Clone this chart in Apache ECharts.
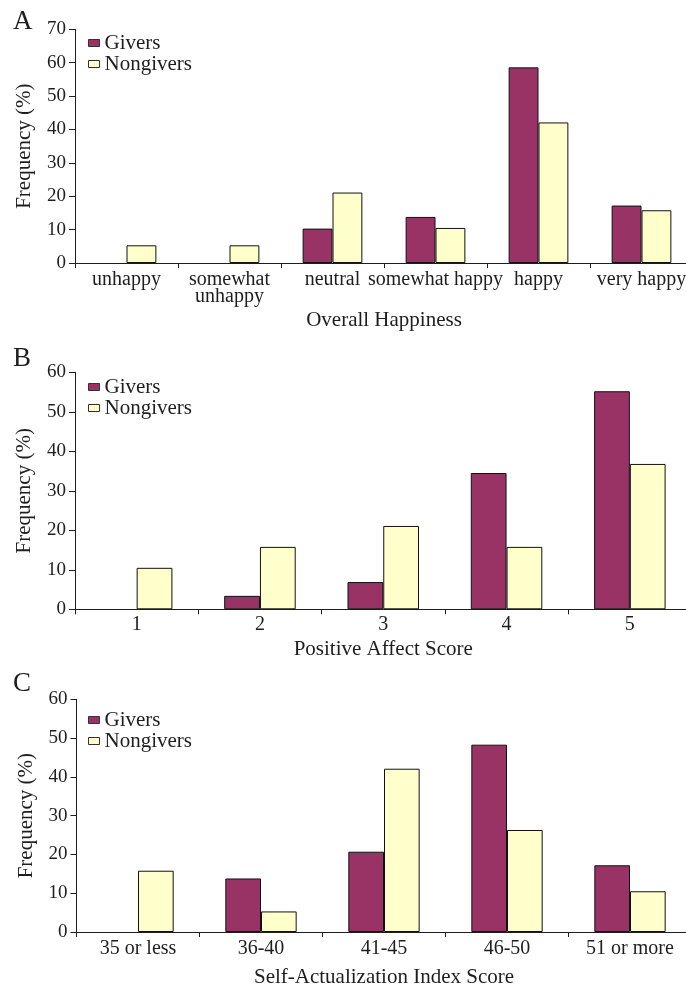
<!DOCTYPE html>
<html>
<head>
<meta charset="utf-8">
<script src="https://cdn.jsdelivr.net/npm/echarts@6/dist/echarts.min.js"></script>
<style>
  html, body { margin: 0; padding: 0; background: #fff; overflow: hidden; }
  #chart { width: 700px; height: 989px; }
</style>
</head>
<body>
<div id="chart"></div>
<script>
// Panel A: overall happiness
const catsA = ['unhappy', 'somewhat\nunhappy', 'neutral', 'somewhat happy', 'happy', 'very happy'];
const giversA = [0, 0, 10.3, 13.8, 58.6, 17.2];
const nongiversA = [5.3, 5.3, 21.1, 10.5, 42.1, 15.8];

// Panel B: positive affect score
const catsB = ['1', '2', '3', '4', '5'];
const giversB = [0, 3.4, 6.9, 34.5, 55.2];
const nongiversB = [10.5, 15.8, 21.1, 15.8, 36.8];

// Panel C: self-actualization index score
const catsC = ['35 or less', '36-40', '41-45', '46-50', '51 or more'];
const giversC = [0, 13.8, 20.7, 48.3, 17.2];
const nongiversC = [15.8, 5.3, 42.1, 26.3, 10.5];

const panelLetters = ['A', 'B', 'C'];
const xTitles = ['Overall Happiness', 'Positive Affect Score', 'Self-Actualization Index Score'];
const yTitle = 'Frequency (%)';
const yMax = [70, 60, 60];

const FONT = '"Liberation Serif", "Times New Roman", serif';
const INK = '#1e1e1e';
const GIVER_COLOR = '#993366';
const NONGIVER_COLOR = '#ffffcc';

const panels = [
  { cats: catsA, g: giversA, n: nongiversA, grid: { left: 75, top: 29.3, width: 618, height: 233.7 },
    legendTop: 32.5, letterTop: 3, nameGap: 47, labelMargin: 8 },
  { cats: catsB, g: giversB, n: nongiversB, grid: { left: 75, top: 372.3, width: 616.5, height: 237 },
    legendTop: 376.5, letterTop: 340, nameGap: 30, labelMargin: 7 },
  { cats: catsC, g: giversC, n: nongiversC, grid: { left: 76.5, top: 699.3, width: 615, height: 233.4 },
    legendTop: 709.5, letterTop: 665, nameGap: 35, labelMargin: 8 }
];

// empty categories draw no bar at all
const bars = arr => arr.map(v => (v === 0 ? null : v));

const option = {
  animation: false,
  backgroundColor: '#fff',
  textStyle: { fontFamily: FONT, color: INK },
  title: [], legend: [], grid: [], xAxis: [], yAxis: [], series: []
};

panels.forEach((p, i) => {
  option.title.push({
    text: panelLetters[i], left: 8, top: p.letterTop,
    textStyle: { fontFamily: FONT, fontSize: 27, fontWeight: 'normal', color: INK }
  });
  option.grid.push(p.grid);
  option.legend.push({
    data: ['Givers', 'Nongivers'],
    orient: 'vertical', left: 88, top: p.legendTop, padding: 0,
    itemWidth: 11, itemHeight: 7, itemGap: 0,
    icon: 'rect',
    itemStyle: { borderColor: '#333', borderWidth: 1 },
    textStyle: { fontFamily: FONT, fontSize: 21, color: INK, lineHeight: 21 },
    selectedMode: false
  });
  option.xAxis.push({
    type: 'category', gridIndex: i, data: p.cats,
    name: xTitles[i], nameLocation: 'middle', nameGap: p.nameGap,
    nameTextStyle: { fontFamily: FONT, fontSize: 21, color: INK },
    axisLine: { lineStyle: { color: INK, width: 1 } },
    axisTick: { show: true, length: 5, alignWithLabel: false, lineStyle: { color: INK } },
    axisLabel: { fontFamily: FONT, fontSize: 20, color: INK, margin: p.labelMargin, lineHeight: 17, interval: 0 },
    splitLine: { show: false }
  });
  option.yAxis.push({
    type: 'value', gridIndex: i, min: 0, max: yMax[i], interval: 10,
    name: yTitle, nameLocation: 'middle', nameGap: 40,
    nameTextStyle: { fontFamily: FONT, fontSize: 21, color: INK },
    axisLine: { show: true, lineStyle: { color: INK, width: 1 } },
    axisTick: { show: true, length: 6, lineStyle: { color: INK } },
    axisLabel: { fontFamily: FONT, fontSize: 19, color: INK, margin: 9 },
    splitLine: { show: false }
  });
  const common = {
    type: 'bar', xAxisIndex: i, yAxisIndex: i,
    barGap: '0%', barCategoryGap: '42%'
  };
  option.series.push(Object.assign({}, common, {
    name: 'Givers', data: bars(p.g),
    itemStyle: { color: GIVER_COLOR, borderColor: '#111', borderWidth: 1 }
  }));
  option.series.push(Object.assign({}, common, {
    name: 'Nongivers', data: bars(p.n),
    itemStyle: { color: NONGIVER_COLOR, borderColor: '#111', borderWidth: 1 }
  }));
});

const chart = echarts.init(document.getElementById('chart'), null, { renderer: 'canvas' });
chart.setOption(option);
</script>
</body>
</html>
